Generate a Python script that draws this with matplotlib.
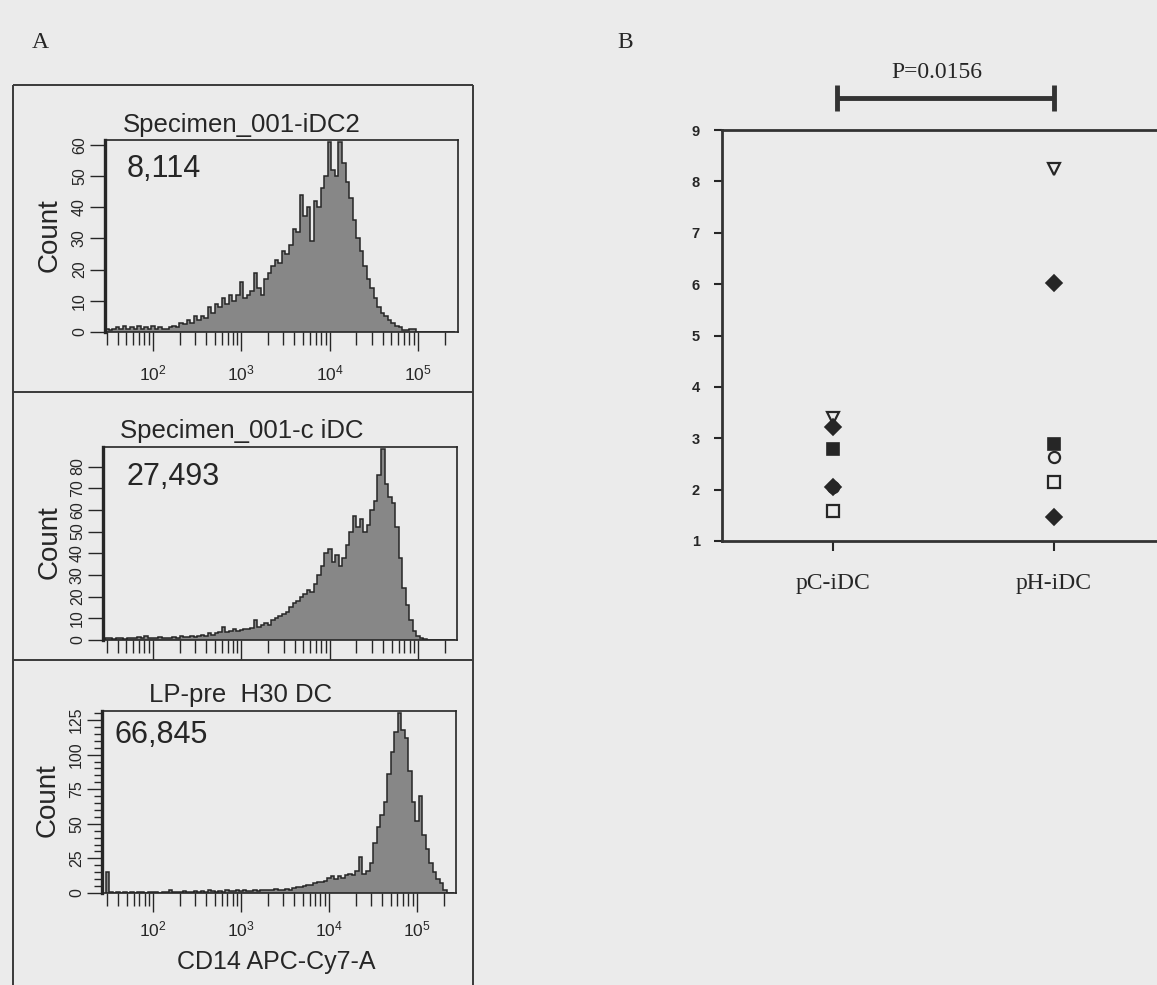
import numpy as np
import matplotlib
matplotlib.use('Agg')
import matplotlib.pyplot as plt
from matplotlib.ticker import FixedLocator, MultipleLocator, NullFormatter, FuncFormatter

# ------------------------------------------------------------------ data
hist_titles = ['Specimen_001-iDC2', 'Specimen_001-c iDC', 'LP-pre  H30 DC']
event_counts = ['8,114', '27,493', '66,845']
x_label = 'CD14 APC-Cy7-A'
y_label = 'Count'

bin_log_start = 1.46      # log10 of first bin edge
bin_log_step = 0.04       # log10 width of a bin

counts_idc2 = [1, 0.5, 1, 1.5, 1, 2, 1, 1.5, 1, 2, 1, 1.5, 1, 2, 1, 1.5, 1, 1, 1.5, 2,
               1.5, 3, 2.5, 4, 3, 5, 4, 5, 4.5, 8, 6, 9, 8, 11, 9, 12, 10, 12, 16, 11,
               12, 13, 19, 14, 12, 17, 19, 21, 23, 22, 26, 25, 28, 33, 32, 44, 37, 40, 29, 42,
               40, 46, 50, 61, 52, 50, 61, 54, 48, 43, 36, 30, 26, 21, 17, 14, 11, 8, 6, 5,
               4, 3, 2, 1.5, 0.5, 0.5, 1, 1, 0, 0, 0, 0, 0, 0, 0, 0, 0, 0, 0]
counts_cidc = [1, 1, 0.5, 1, 1, 0.5, 1, 1, 1, 1.5, 1, 2, 1, 1, 1, 1.5, 1, 1, 1, 1.5,
               1, 2, 1.5, 1.5, 2, 1.5, 2, 2.5, 2, 3, 2.5, 3, 3.5, 6, 3.5, 4, 5, 4, 4.5, 5,
               5, 5.5, 9, 6, 7, 8, 7, 9, 10, 11, 12, 13, 15, 17, 18, 20, 21, 23, 22, 26,
               30, 34, 40, 42, 36, 39, 34, 38, 44, 50, 57, 52, 56, 50, 53, 60, 64, 76, 88, 72,
               66, 63, 52, 38, 24, 16, 9, 4, 2, 1, 0.5, 0, 0, 0, 0, 0, 0, 0, 0]
counts_h30 = [15, 0.5, 0.3, 0.5, 0.3, 0.5, 0.3, 0.5, 0.3, 0.5, 0.5, 0.3, 0.5, 0.5, 0.5, 0.3, 0.5, 0.5, 2, 1,
              0.5, 1, 1.5, 1, 1, 1.5, 1, 1.5, 1, 2, 1.5, 1, 1.5, 1, 2, 1.5, 1.5, 2, 1.5, 2,
              1.5, 1.5, 2, 1.5, 2, 2, 2.5, 2, 3, 2.5, 2, 3, 2.5, 3.5, 4, 4, 5, 6, 6, 7,
              8, 8, 9, 11, 12, 10, 12, 11, 13, 14, 13, 16, 26, 14, 16, 22, 36, 48, 56, 66,
              86, 102, 116, 130, 118, 112, 88, 66, 52, 70, 42, 32, 22, 15, 10, 7, 2, 0, 0]
hist_counts = [counts_idc2, counts_cidc, counts_h30]

decade_ticks = [1e2, 1e3, 1e4, 1e5]
y_major = [10, 10, 25]
y_minor = [None, None, 5]
y_tops = [61.5, 89, 131.5]
x_lims_log = [(1.457, 5.453), (1.434, 5.44), (1.42, 5.443)]

categories = ['pC-iDC', 'pH-iDC']
donor_markers = ['v', 'D', 's', 'o', 's', 'D']
donor_filled = [False, True, True, False, False, True]
pC_values = [3.40, 3.22, 2.79, 2.05, 1.58, 2.05]
pH_values = [8.25, 6.02, 2.88, 2.63, 2.15, 1.47]
p_text = 'P=0.0156'
b_ylim = (1, 9)

# ------------------------------------------------------------------ style
W, H = 1157, 985
BG = '#ebebeb'
INK = '#262626'
FILL = '#878787'
plt.rcParams['font.family'] = ['Liberation Sans', 'DejaVu Sans']
plt.rcParams['mathtext.fontset'] = 'custom'
plt.rcParams['mathtext.rm'] = 'Liberation Sans'
plt.rcParams['mathtext.it'] = 'Liberation Sans:italic'
SERIF = ['Liberation Serif', 'DejaVu Serif']

fig = plt.figure(figsize=(W / 100, H / 100), dpi=100, facecolor=BG)


def box(l, t, r, b):
    return [l / W, 1 - b / H, (r - l) / W, (b - t) / H]


# background / annotation layer in pixel coordinates
bg = fig.add_axes([0, 0, 1, 1], zorder=-5)
bg.set_xlim(0, W)
bg.set_ylim(H, 0)
bg.axis('off')

# panel A frame
for seg in [((13, 85), (473, 85)), ((13, 85), (13, 990)), ((473, 85), (473, 990)),
            ((13, 392), (473, 392)), ((13, 660), (473, 660))]:
    (x0, y0), (x1, y1) = seg
    bg.plot([x0, x1], [y0, y1], color='#3a3a3a', lw=1.4, solid_capstyle='butt')

bg.text(40, 42, 'A', family=SERIF, fontsize=17, color=INK, ha='center', va='center')
bg.text(625, 42, 'B', family=SERIF, fontsize=17, color=INK, ha='center', va='center')

hist_boxes = [(105, 140, 458, 332), (103, 447, 457, 640), (102, 711, 456, 893)]
title_pos = [(242, 125), (242, 431), (241, 695)]
count_pos = [(127, 169), (127, 477), (114, 735)]
ylab_pos = [(50, 235), (50, 542), (48, 800)]
x_label_pad = [9, 9, 5]

for i in range(3):
    ax = fig.add_axes(box(*hist_boxes[i]))
    ax.set_facecolor('none')
    c = np.asarray(hist_counts[i], dtype=float)
    edges = 10 ** (bin_log_start + bin_log_step * np.arange(len(c) + 1))
    ax.stairs(c, edges, fill=True, color=FILL, lw=0)
    ax.stairs(c, edges, color=INK, lw=1.1)
    ax.set_xscale('log')
    lo, hi = x_lims_log[i]
    ax.set_xlim(10 ** lo, 10 ** hi)
    ax.set_ylim(0, y_tops[i])
    ax.xaxis.set_major_locator(FixedLocator(decade_ticks))
    minors = [m * d for d in [1e1, 1e2, 1e3, 1e4, 1e5] for m in range(2, 10)]
    ax.xaxis.set_minor_locator(FixedLocator(minors))
    ax.xaxis.set_minor_formatter(NullFormatter())
    ax.xaxis.set_major_formatter(FuncFormatter(lambda v, p: r'$10^{%d}$' % round(np.log10(v))))
    ax.tick_params(axis='x', which='major', length=14, width=1.0, color=INK,
                   labelsize=12.5, pad=x_label_pad[i], labelcolor=INK, labelbottom=(i != 1))
    ax.tick_params(axis='x', which='minor', length=9, width=1.0, color=INK)
    ax.yaxis.set_major_locator(MultipleLocator(y_major[i]))
    if y_minor[i]:
        ax.yaxis.set_minor_locator(MultipleLocator(y_minor[i]))
        ax.tick_params(axis='y', which='minor', length=6, width=1.0, color=INK)
    ax.tick_params(axis='y', which='major', length=11, width=1.0, color=INK,
                   labelsize=11.5, pad=2, labelcolor=INK, labelrotation=90)
    for lab in ax.get_yticklabels():
        lab.set_va('center')
    for s in ax.spines.values():
        s.set_color(INK)
        s.set_linewidth(1.2)
    ax.spines['left'].set_linewidth(2.4)
    bg.text(*title_pos[i], hist_titles[i], fontsize=18.5, color=INK, ha='center', va='center')
    bg.text(*count_pos[i], event_counts[i], fontsize=22, color=INK, ha='left', va='center')
    bg.text(*ylab_pos[i], y_label, fontsize=20, color=INK, ha='center', va='center', rotation=90)

bg.text(276, 962, x_label, fontsize=18, color=INK, ha='center', va='center')

# ------------------------------------------------------------------ panel B
axb = fig.add_axes(box(722, 130, 1175, 541))
axb.set_facecolor('none')
axb.set_xlim(-0.502, (1175 - 833) / 221)
axb.set_ylim(*b_ylim)
axb.yaxis.set_major_locator(MultipleLocator(1))
axb.set_xticks([0, 1])
axb.set_xticklabels(categories, family=SERIF, fontsize=17, color=INK)
axb.tick_params(axis='x', length=7, width=1.5, color=INK, pad=16)
axb.tick_params(axis='y', length=6, width=1.5, color=INK, labelsize=10.5, pad=10, labelcolor=INK)
for lab in axb.get_yticklabels():
    lab.set_fontweight('bold')
for name, s in axb.spines.items():
    s.set_color('#333333')
    s.set_linewidth(2.0)
axb.spines['right'].set_visible(False)

for m, f, a, b in zip(donor_markers, donor_filled, pC_values, pH_values):
    if f:
        continue
    axb.plot([0, 1], [a, b], ls='none', marker=m, ms=8, mfc=BG, mec=INK, mew=1.6, clip_on=False)
for m, f, a, b in zip(donor_markers, donor_filled, pC_values, pH_values):
    if not f:
        continue
    axb.plot([0, 1], [a, b], ls='none', marker=m, ms=8.5, mfc=INK, mec=INK, mew=1.2, clip_on=False)

bar_y = b_ylim[1] + (130 - 98) / 51.4
axb.plot([0.02, 1.0], [bar_y, bar_y], color='#333333', lw=3.5, clip_on=False,
         solid_capstyle='butt')
axb.plot([0.02, 1.0], [bar_y, bar_y], ls='none', marker='|', ms=19, mew=3.5,
         color='#333333', clip_on=False)
axb.text(0.47, b_ylim[1] + (130 - 72) / 51.4, p_text, family=SERIF, fontsize=17,
         color=INK, ha='center', va='center')

fig.savefig('out.png', dpi=100, facecolor=BG)
